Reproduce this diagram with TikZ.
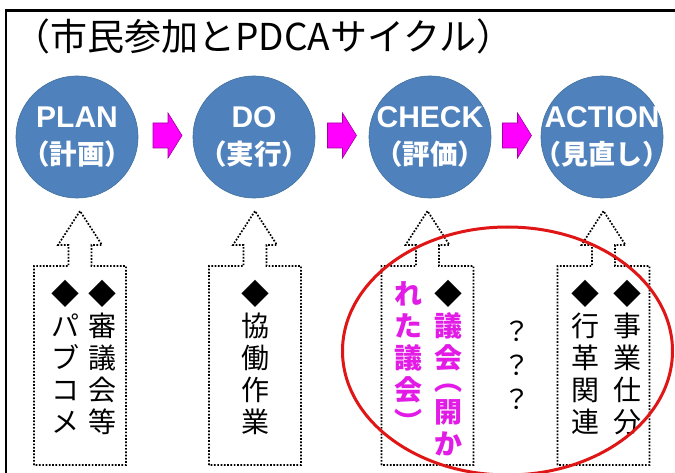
\documentclass[tikz,border=0pt]{standalone}
\usepackage{fontspec}
\setmainfont{Liberation Sans}
\newfontfamily\jp{Noto Sans CJK JP}
\usetikzlibrary{calc,shapes.geometric}
\definecolor{pdcablue}{HTML}{4F81BD}
\definecolor{pdcaedge}{HTML}{41719C}
\definecolor{arrowfill}{HTML}{FF00FF}
\definecolor{arrowedge}{HTML}{A000A0}
\definecolor{hilite}{HTML}{E21CE6}
\definecolor{ringred}{HTML}{E01515}
\newcommand\firstrow{\rule{0pt}{25pt}}
\begin{document}
\begin{tikzpicture}[x=1pt,y=-1pt,
  phase/.style={circle, fill=pdcablue, draw=pdcaedge, line width=0.6pt, minimum size=122pt, inner sep=0pt},
  phasetext/.style={text=white, align=center, inner sep=0pt, font=\bfseries\fontsize{30}{37}\selectfont},
  vcol/.style={align=center, inner sep=0pt, anchor=north, font=\jp\fontsize{28}{32}\selectfont},
  hcol/.style={vcol, text=hilite, font=\jp\bfseries\fontsize{28}{32}\selectfont},
  dotline/.style={line width=1.7pt, dash pattern=on 1.7pt off 1.6pt, black},
  upcall/.pic={\draw[dotline] (-46,254) -- (-46,55) -- (-11.5,55) -- (-11.5,34) -- (-22,34) -- (0,0) -- (22,34) -- (11.5,34) -- (11.5,55) -- (46,55) -- (46,254) -- cycle;},
  blockarr/.pic={\filldraw[fill=arrowfill, draw=arrowedge, line width=0.6pt] (-14.5,-12.5) -- (0.5,-12.5) -- (0.5,-22.5) -- (14.5,0) -- (0.5,22.5) -- (0.5,12.5) -- (-14.5,12.5) -- cycle;}
]
\useasboundingbox (0,0) rectangle (675,473);
\fill[white] (0,0) rectangle (675,473);
% frame
\draw[line width=2.8pt] (6,473) -- (6,10.5) -- (675,10.5);
% title
\node[anchor=base west, inner sep=0pt, font=\jp\fontsize{37}{37}\selectfont] (title) at (13,51) {（市民参加とPDCAサイクル）};
% phases
\node[phase] (plan) at (77,137) {};
\node[phase] (do) at (254,137) {};
\node[phase] (check) at (430,137) {};
\node[phase] (action) at (602,137) {};
\node[phasetext] (plant) at (plan) {PLAN\\{\jp\fontsize{27.5}{37}\selectfont （計画）}};
\node[phasetext] (dot) at (do) {DO\\{\jp\fontsize{27.5}{37}\selectfont （実行）}};
\node[phasetext] (checkt) at (check) {CHECK\\{\jp\fontsize{27.5}{37}\selectfont （評価）}};
\node[phasetext] (actiont) at (action) {ACTION\\{\jp\fontsize{27}{37}\selectfont （見直し）}};
% arrows between phases
\coordinate (m1) at ($(plan)!0.5!(do)+(2,-1.5)$);
\coordinate (m2) at ($(do)!0.5!(check)+(0,-1.5)$);
\coordinate (m3) at ($(check)!0.5!(action)+(1,-1.5)$);
\pic at (m1) {blockarr};
\pic at (m2) {blockarr};
\pic at (m3) {blockarr};
% callouts
\coordinate (c1) at (80,211);
\coordinate (c2) at (255,211);
\coordinate (c3) at (427.5,211);
\coordinate (c4) at (603.5,211);
\pic at (c1) {upcall};
\pic at (c2) {upcall};
\pic at (c3) {upcall};
\pic at (c4) {upcall};
% texts
\node[vcol] (b1r) at (102,279) {\firstrow◆\\審\\議\\会\\等};
\node[vcol] (b1l) at (65,279) {\firstrow◆\\パ\\ブ\\コ\\メ};
\node[vcol] (b2) at (255,279) {\firstrow◆\\協\\働\\作\\業};
\node[hcol] (b3r) at (448,279) {\firstrow{\color{black}◆}\\議\\会\\[-10pt]︵\\開\\か};
\node[hcol] (b3l) at (408,279) {\firstrow れ\\た\\議\\会\\︶};
\node[vcol, font=\jp\fontsize{27}{34}\selectfont] (qs) at (517,316) {\firstrow？\\？\\？};
\node[vcol] (b4r) at (627,279) {\firstrow◆\\事\\業\\仕\\分};
\node[vcol] (b4l) at (585,279) {\firstrow◆\\行\\革\\関\\連};
% red ring
\node[draw=ringred, line width=3pt, ellipse, minimum width=330pt, minimum height=248pt, inner sep=0pt] (ring) at (507.5,351) {};
\end{tikzpicture}
\end{document}
